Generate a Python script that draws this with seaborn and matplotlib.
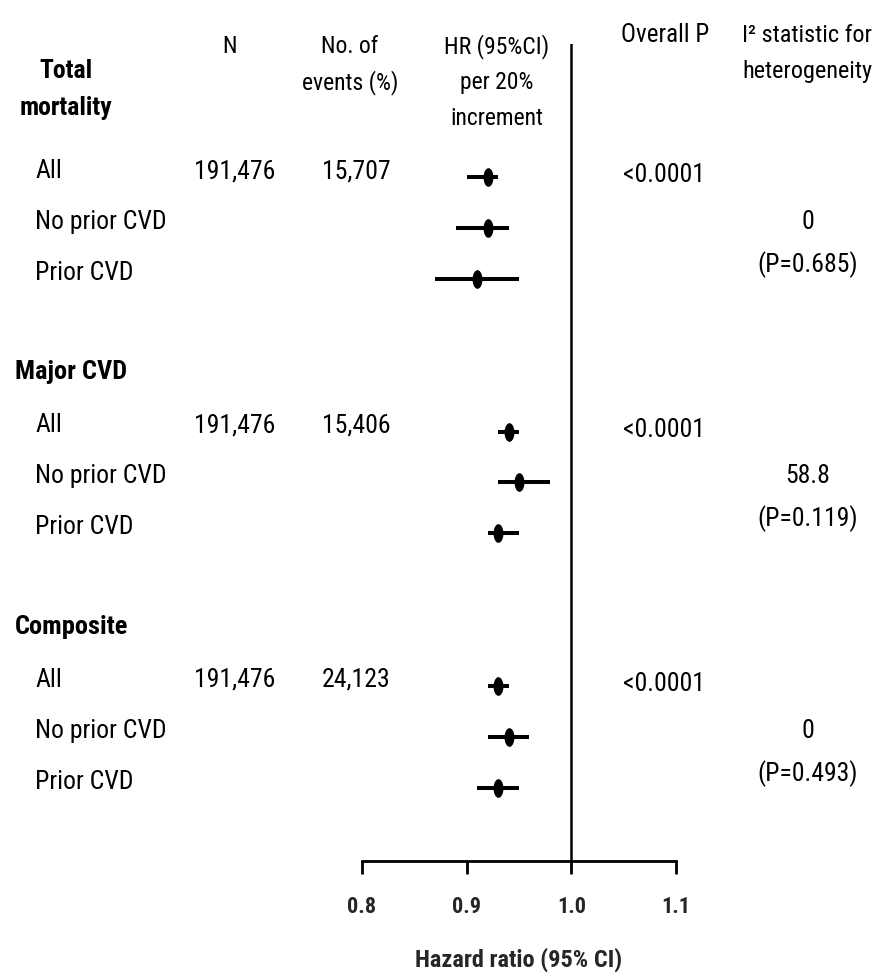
import numpy as np
import pandas as pd
import matplotlib
matplotlib.use("Agg")
import matplotlib.pyplot as plt
import matplotlib.transforms as mtransforms
from matplotlib.path import Path
from matplotlib import font_manager as fm
import seaborn as sns

# ---------------- data ----------------
outcomes = ["Total mortality", "Major CVD", "Composite"]
subgroups = ["All", "No prior CVD", "Prior CVD"]
n_total = ["191,476", "191,476", "191,476"]
n_events = ["15,707", "15,406", "24,123"]
hr = [0.92, 0.92, 0.91, 0.94, 0.95, 0.93, 0.93, 0.94, 0.93]
ci_low = [0.90, 0.89, 0.87, 0.93, 0.93, 0.92, 0.92, 0.92, 0.91]
ci_high = [0.93, 0.94, 0.95, 0.95, 0.98, 0.95, 0.94, 0.96, 0.95]
overall_p = ["<0.0001", "<0.0001", "<0.0001"]
i2_values = ["0", "58.8", "0"]
i2_p = ["(P=0.685)", "(P=0.119)", "(P=0.493)"]
x_ticks = [0.8, 0.9, 1.0, 1.1]
x_tick_labels = ["0.8", "0.9", "1.0", "1.1"]
hdr_n = ["N"]
hdr_events = ["No. of", "events (%)"]
hdr_hr = ["HR (95%CI)", "per 20%", "increment"]
hdr_p = ["Overall P"]
hdr_i2 = ["I\u00b2 statistic for", "heterogeneity"]
x_label = "Hazard ratio (95% CI)"

# ---------------- style ----------------
sns.set_style("white")
plt.rcParams["font.family"] = ["Liberation Sans", "DejaVu Sans"]


def _wnum(w):
    if isinstance(w, str):
        return fm.weight_dict.get(w, 400)
    return int(w)


def find_narrow(bold):
    prio = ["liberation sans narrow", "arial narrow", "roboto condensed",
            "open sans condensed", "noto sans", "dejavu sans", "liberation", "roboto"]
    best, best_score = None, 1e9
    for f in fm.fontManager.ttflist:
        fn = f.fname.lower()
        nm = f.name.lower()
        narrowish = ("narrow" in fn or "condensed" in fn or "narrow" in nm
                     or "condensed" in nm or str(f.stretch).endswith("condensed"))
        if not narrowish or "semi" in fn or "extra" in fn or "ultra" in fn:
            continue
        if f.style != "normal" or "italic" in fn or "oblique" in fn:
            continue
        wn = _wnum(f.weight)
        if bold != (wn >= 600):
            continue
        if not bold and wn < 350:
            continue
        score = len(prio)
        for i, p in enumerate(prio):
            if p in nm or p.replace(" ", "") in fn.replace("-", "").replace("_", ""):
                score = i
                break
        if score < best_score:
            best, best_score = f.fname, score
    return best


reg_file = find_narrow(False)
bold_file = find_narrow(True)
scale = 1.0 if reg_file else 0.84


def fprop(size, bold=False):
    fname = bold_file if bold else reg_file
    if fname:
        return fm.FontProperties(fname=fname, size=size * scale)
    return fm.FontProperties(family=["Liberation Sans", "DejaVu Sans"],
                             weight="bold" if bold else "normal", size=size * scale)


W, H = 876, 979
fig = plt.figure(figsize=(W / 100, H / 100), dpi=100)

# forest axes: 0.8 at px 362, 1.1 at px 676, top at px 45, bottom at px 862
ax_top_px, ax_bot_px = 45, 862
row0_px, row_step = 178.0, 50.9
ax = fig.add_axes([362 / W, (H - ax_bot_px) / H, (676 - 362) / W, (ax_bot_px - ax_top_px) / H])


def px_row(ypx):
    return (ypx - row0_px) / row_step


ax.set_xlim(0.8, 1.1)
ax.set_ylim(px_row(ax_bot_px), px_row(ax_top_px))

rows = []
for g in range(3):
    for j in range(3):
        rows.append(5 * g + j)

df = pd.DataFrame({"hr": hr, "lo": ci_low, "hi": ci_high, "row": rows})

# reference line
ax.axvline(1.0, color="black", lw=1.8, zorder=1)

# confidence intervals
ax.hlines(df["row"], df["lo"], df["hi"], color="black", lw=2.9, zorder=2)

# ellipse marker
t = np.linspace(0, 2 * np.pi, 80)
ell = Path(np.column_stack([0.53 * np.cos(t), np.sin(t)]), closed=True)
sns.scatterplot(data=df, x="hr", y="row", marker=ell, s=180, color="black",
                linewidth=0, ax=ax, zorder=3, legend=False)

ax.set_xticks(x_ticks)
ax.set_xticklabels(x_tick_labels)
for lbl in ax.get_xticklabels():
    lbl.set_fontproperties(fprop(16, bold=True))
ax.set_yticks([])
ax.set_ylabel("")
ax.set_xlabel(x_label, fontproperties=fprop(17.5, bold=True), labelpad=21)
ax.tick_params(axis="x", direction="out", length=9.5, width=2, pad=15,
               color="black", bottom=True)
for s in ["top", "right", "left"]:
    ax.spines[s].set_visible(False)
ax.spines["bottom"].set_linewidth(2)
ax.spines["bottom"].set_color("black")
ax.patch.set_alpha(0)

tr = mtransforms.blended_transform_factory(fig.transFigure, ax.transData)


def put(xpx, row, s, ha="center", size=18.5, bold=False):
    fig.text(xpx / W, row, s, transform=tr, ha=ha, va="baseline",
             fontproperties=fprop(size, bold), color="black", clip_on=False)


# headers
put(230, px_row(53), hdr_n[0], size=17)
for k, line in enumerate(hdr_events):
    put(350, px_row(53 + 36 * k), line, size=17)
for k, line in enumerate(hdr_hr):
    put(497, px_row(53 + 36 * k), line, size=17)
put(665, px_row(42), hdr_p[0], size=18)
for k, line in enumerate(hdr_i2):
    put(807, px_row(42 + 36 * k), line, size=17.5)

# outcome titles
put(66, px_row(78), "Total", size=18.5, bold=True)
put(66, px_row(115), "mortality", size=18.5, bold=True)
put(15, 5 * 1 - 1 - 0.05, outcomes[1], ha="left", size=19, bold=True)
put(15, 5 * 2 - 1 - 0.05, outcomes[2], ha="left", size=19, bold=True)

# table rows
for g in range(3):
    for j, lab in enumerate(subgroups):
        put(35, 5 * g + j, lab, ha="left")
    put(235, 5 * g, n_total[g])
    put(356, 5 * g, n_events[g])
    put(664, 5 * g + 0.08, overall_p[g])
    put(808, 5 * g + 1, i2_values[g])
    put(808, 5 * g + 1 + 43 / row_step, i2_p[g])

fig.savefig("out.png", dpi=100)
